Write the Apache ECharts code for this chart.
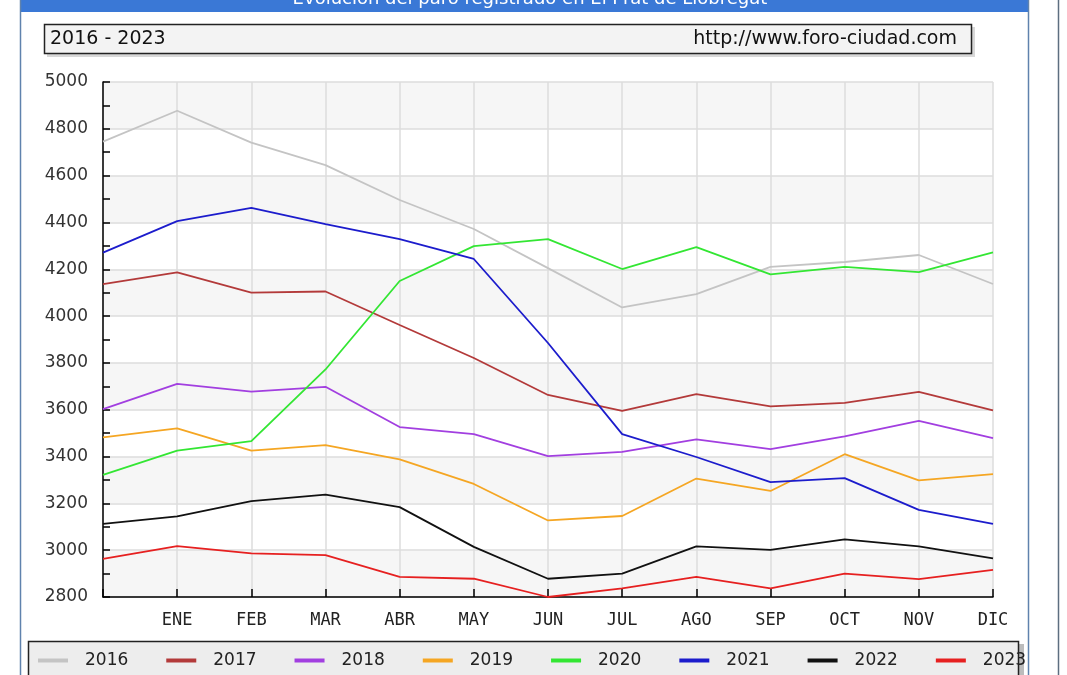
<!DOCTYPE html>
<html><head><meta charset="utf-8">
<script src="https://cdn.jsdelivr.net/npm/echarts@6/dist/echarts.min.js"></script>
<style>html,body{margin:0;padding:0;background:#fff;overflow:hidden}#c{width:1067px;height:675px}</style>
</head><body><div id="c"></div>
<script>
// ---- data ----
const months = ['', 'ENE', 'FEB', 'MAR', 'ABR', 'MAY', 'JUN', 'JUL', 'AGO', 'SEP', 'OCT', 'NOV', 'DIC'];
const years = ['2016', '2017', '2018', '2019', '2020', '2021', '2022', '2023'];
const v2016 = [4745, 4877, 4741, 4645, 4496, 4372, 4205, 4037, 4094, 4210, 4231, 4261, 4137];
const v2017 = [4137, 4187, 4100, 4105, 3962, 3821, 3663, 3595, 3667, 3614, 3629, 3676, 3597];
const v2018 = [3603, 3710, 3677, 3698, 3526, 3496, 3402, 3420, 3473, 3432, 3486, 3552, 3479];
const v2019 = [3482, 3520, 3425, 3449, 3388, 3283, 3127, 3146, 3306, 3253, 3410, 3298, 3325];
const v2020 = [3322, 3425, 3466, 3772, 4150, 4299, 4329, 4201, 4295, 4178, 4210, 4188, 4272];
const v2021 = [4271, 4406, 4462, 4393, 4329, 4244, 3885, 3496, 3398, 3291, 3308, 3172, 3112];
const v2022 = [3112, 3144, 3210, 3237, 3184, 3014, 2878, 2900, 3016, 3001, 3046, 3016, 2965];
const v2023 = [2963, 3017, 2986, 2979, 2886, 2878, 2800, 2837, 2886, 2837, 2900, 2876, 2916];
const seriesValues = [v2016, v2017, v2018, v2019, v2020, v2021, v2022, v2023];
const yMin = 2800, yMax = 5000, yStep = 200;
const headerLeft = '2016 - 2023';
const headerRight = 'http://www.foro-ciudad.com';
const titleText = 'Evolución del paro registrado en El Prat de Llobregat';

// ---- styles ----
const colors = ['#c4c4c4', '#b33a3a', '#a23fe0', '#f5a623', '#33e633', '#1c1ccc', '#111111', '#e62020'];

const chart = echarts.init(document.getElementById('c'), null, {renderer: 'canvas'});
const option = {
  animation: false,
  backgroundColor: '#ffffff',
  grid: {left: 103, right: 74, top: 82, bottom: 78, containLabel: false},
  xAxis: {
    type: 'category',
    data: months,
    boundaryGap: false,
    axisLine: {show: true, lineStyle: {color: '#000', width: 1.5}},
    axisTick: {show: true, inside: true, length: 8, interval: 0, lineStyle: {color: '#000', width: 1.5}},
    axisLabel: {interval: 0, margin: 15, fontFamily: 'DejaVu Sans Mono', fontSize: 17, color: '#222'},
    splitLine: {show: true, interval: 0, lineStyle: {color: '#dcdcdc', width: 1.5}}
  },
  yAxis: {
    type: 'value',
    min: yMin, max: yMax, interval: yStep,
    axisLine: {show: true, lineStyle: {color: '#000', width: 1.5}},
    axisTick: {show: true, inside: true, length: 7, lineStyle: {color: '#000', width: 1.5}},
    minorTick: {show: true, splitNumber: 2, length: 7, lineStyle: {color: '#000', width: 1.5}},
    axisLabel: {margin: 15, fontFamily: 'DejaVu Sans', fontSize: 17, color: '#333', formatter: v => String(v)},
    splitLine: {show: true, lineStyle: {color: '#dcdcdc', width: 1.5}},
    splitArea: {show: true, areaStyle: {color: ['#f6f6f6', '#ffffff']}}
  },
  legend: {
    show: true,
    left: 38, top: 652,
    itemWidth: 30, itemHeight: 4, itemGap: 38,
    icon: 'rect',
    padding: 0,
    textStyle: {fontFamily: 'DejaVu Sans', fontSize: 17, color: '#222', padding: [0, 0, 0, 12]},
    data: years
  },
  series: years.map((y, i) => ({
    name: y,
    type: 'line',
    data: seriesValues[i],
    showSymbol: false,
    symbol: 'none',
    lineStyle: {color: colors[i], width: 1.8},
    itemStyle: {color: colors[i]},
    z: 2 + i
  })),
  graphic: [
    // outer frame
    {type: 'rect', z: -10, silent: true, shape: {x: 20, y: 0, width: 1008, height: 12}, style: {fill: '#3a78d6'}},
    {type: 'text', z: -9, silent: true, x: 530, y: 8, style: {text: titleText, fill: '#ffffff', font: '18px "DejaVu Sans"', textAlign: 'center', textVerticalAlign: 'bottom'}},
    {type: 'line', z: -9, silent: true, shape: {x1: 20.5, y1: 0, x2: 20.5, y2: 675}, style: {stroke: '#5f82ad', lineWidth: 1.5}},
    {type: 'line', z: -9, silent: true, shape: {x1: 1028.5, y1: 0, x2: 1028.5, y2: 675}, style: {stroke: '#5f82ad', lineWidth: 1.5}},
    {type: 'line', z: -9, silent: true, shape: {x1: 1058.5, y1: 0, x2: 1058.5, y2: 675}, style: {stroke: '#5d6e80', lineWidth: 1.5}},
    // header box
    {type: 'rect', z: -8, silent: true, shape: {x: 47, y: 27, width: 928, height: 30}, style: {fill: '#d8d8d8'}},
    {type: 'rect', z: -7, silent: true, shape: {x: 44.5, y: 24.5, width: 927, height: 29}, style: {fill: '#f3f3f3', stroke: '#222', lineWidth: 1.5}},
    {type: 'text', z: -6, silent: true, x: 50, y: 39, style: {text: headerLeft, fill: '#111', font: '19px "DejaVu Sans"', textVerticalAlign: 'middle'}},
    {type: 'text', z: -6, silent: true, x: 957, y: 39, style: {text: headerRight, fill: '#111', font: '19px "DejaVu Sans"', textAlign: 'right', textVerticalAlign: 'middle'}},
    // legend box
    {type: 'rect', z: -8, silent: true, shape: {x: 31, y: 644, width: 993, height: 40}, style: {fill: '#bcbcbc'}},
    {type: 'rect', z: -7, silent: true, shape: {x: 28.5, y: 641.5, width: 990, height: 40}, style: {fill: '#ededed', stroke: '#222', lineWidth: 1.5}}
  ]
};
chart.setOption(option);
</script></body></html>
